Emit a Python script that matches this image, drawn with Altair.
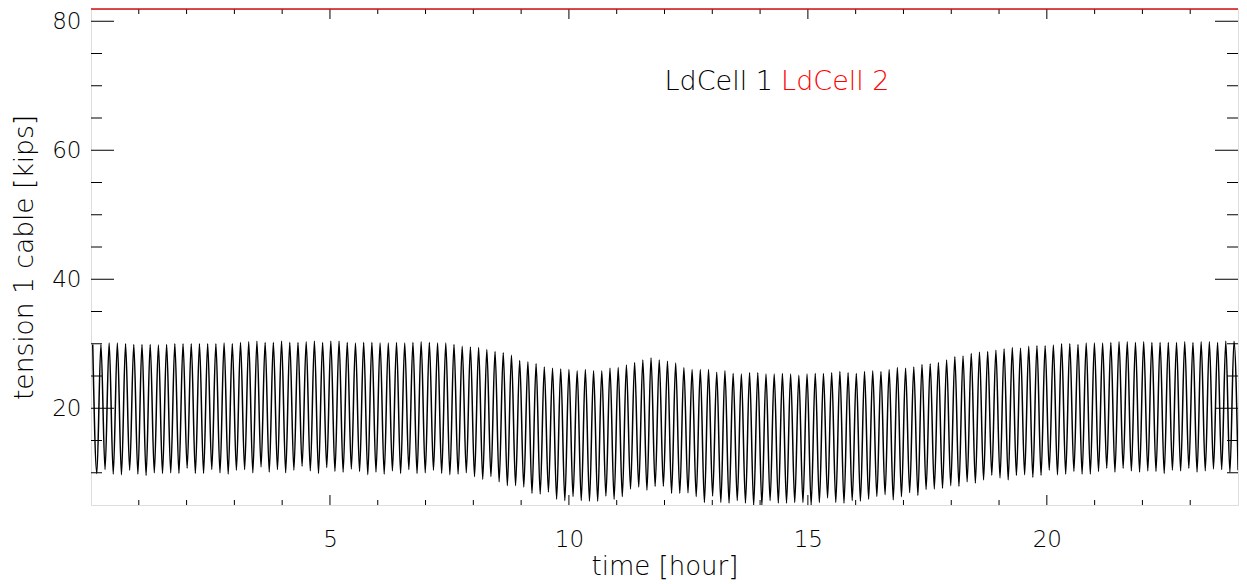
import altair as alt
import pandas as pd

# ---------------- data ----------------
# LdCell 1: successive peak (max) and trough (min) tension of each load cycle [kips]
PEAKS = [
    29.9, 29.9, 30.1, 30.1, 30.0, 29.9, 29.9, 29.9, 29.8, 29.9,
    30.0, 30.0, 30.0, 30.0, 30.0, 30.0, 30.1, 30.0, 30.2, 30.3,
    30.4, 30.2, 30.2, 30.4, 30.2, 30.2,
    30.3, 30.4, 30.2, 30.4, 30.4, 30.2, 30.1, 30.2, 30.2, 30.1,
    30.1, 30.2, 30.1, 30.2, 30.3, 30.2, 30.1, 30.1, 29.9, 29.6,
    29.5, 29.4, 29.1, 28.8, 28.6, 28.2,
    27.4, 27.2, 26.9, 26.4, 26.2, 26.1, 26.0, 25.8, 26.0, 25.8,
    25.8, 26.2, 26.3, 26.7, 27.1, 27.5, 27.8, 27.5, 27.3, 27.0,
    26.3, 26.0, 26.0, 26.0, 25.6, 25.8, 25.4, 25.3, 25.5, 25.5,
    25.3, 25.3, 25.4, 25.3, 25.1, 25.3, 25.4, 25.4, 25.5, 25.7,
    25.5, 25.4, 25.7, 25.8, 25.7, 26.0, 26.3, 26.2, 26.4, 26.8,
    26.9, 27.1, 27.5, 28.0, 28.1, 28.5, 28.7, 28.8, 29.0,
    29.2, 29.4, 29.3, 29.6, 29.7, 29.7, 29.8, 30.0, 30.0, 29.9,
    30.1, 30.1, 30.1, 30.2, 30.3, 30.3, 30.2, 30.3, 30.2, 30.2,
    30.2, 30.2, 30.3, 30.2, 30.3, 30.3, 30.2, 30.4, 30.4,
]
TROUGHS = [
    9.9, 10.5, 9.8, 9.7, 10.4, 9.8, 9.6, 10.0, 9.9, 10.0,
    9.9, 10.7, 9.9, 9.9, 10.5, 10.0, 9.8, 10.4, 10.5, 10.0,
    10.9, 10.1, 10.5, 10.0, 10.4, 11.0,
    10.3, 9.9, 10.8, 10.2, 10.1, 10.6, 10.2, 9.7, 10.1, 9.8,
    10.3, 9.9, 10.5, 9.9, 10.0, 10.4, 9.9, 9.7, 9.8, 10.0,
    9.4, 9.0, 9.4, 8.6, 8.0, 8.0,
    7.8, 6.8, 6.7, 7.0, 5.9, 5.7, 6.3, 5.7, 5.6, 5.6,
    6.4, 5.9, 6.3, 7.5, 7.8, 7.3, 7.9, 7.9, 6.8, 6.8,
    6.9, 6.3, 5.4, 6.4, 5.4, 5.3, 5.7, 5.3, 5.0, 5.0,
    5.7, 5.3, 5.3, 5.4, 5.4, 5.0, 5.4, 6.1, 5.4, 5.3,
    5.7, 5.6, 5.9, 6.3, 6.6, 5.8, 6.3, 6.9, 6.5, 7.4,
    7.5, 7.6, 8.0, 7.9, 8.6, 8.4, 8.9, 9.6, 9.2,
    8.9, 9.6, 9.7, 9.3, 9.6, 10.4, 9.7, 9.8, 10.2, 9.8,
    9.8, 10.2, 10.7, 10.1, 10.7, 10.3, 10.1, 10.3, 10.2, 9.9,
    10.4, 10.3, 10.7, 10.1, 10.3, 10.6, 10.5, 10.1, 10.4,
]
FIRST_PEAK_H = 0.036      # time of the first peak [hour]
CYCLE_H = 0.1718          # load-cycle period [hour]

# LdCell 2: off scale, drawn on the top of the frame
LDCELL2_T = [0.0, 24.0]
LDCELL2_V = [81.9, 81.9]

LEGEND_TEXT = ["LdCell 1", "LdCell 2"]
LEGEND_T = [12.0, 14.44]
LEGEND_V = [69.4, 69.4]
LEGEND_COLOR = ["#000000", "#ff0000"]

X_DOMAIN = [0, 24]
Y_DOMAIN = [5, 81.9]
X_LABELS = [5, 10, 15, 20]
X_MINOR = [h for h in range(1, 24) if h % 5]
Y_LABELS = [20, 40, 60, 80]
Y_MINOR = [v for v in range(10, 80, 5) if v % 20]

# ---------------- build tables ----------------
rows = []
for k, (p, tr) in enumerate(zip(PEAKS, TROUGHS)):
    rows.append({"t": FIRST_PEAK_H + k * CYCLE_H, "v": p})
    rows.append({"t": FIRST_PEAK_H + (k + 0.5) * CYCLE_H, "v": tr})
cell1 = pd.DataFrame(rows)
cell2 = pd.DataFrame({"t": LDCELL2_T, "v": LDCELL2_V})
legend = pd.DataFrame({"label": LEGEND_TEXT, "t": LEGEND_T, "v": LEGEND_V, "c": LEGEND_COLOR})

W, H = 1147, 496
FONT = "DejaVu Sans"

xscale = alt.Scale(domain=X_DOMAIN, nice=False, zero=False)
yscale = alt.Scale(domain=Y_DOMAIN, nice=False, zero=False)
xaxis = alt.Axis(values=X_LABELS, format="d", ticks=False, tickSize=0, domain=False, grid=False,
                 labelFont=FONT, labelFontSize=23, labelFontWeight=200, labelColor="#000",
                 labelPadding=23, titleFont=FONT, titleFontSize=26, titleFontWeight=200,
                 titleColor="#000", titlePadding=2, labelFlush=False)
yaxis = alt.Axis(values=Y_LABELS, format="d", ticks=False, tickSize=0, domain=False, grid=False,
                 labelFont=FONT, labelFontSize=23, labelFontWeight=200, labelColor="#000",
                 labelPadding=10, titleFont=FONT, titleFontSize=26.5, titleFontWeight=200,
                 titleColor="#000", titlePadding=13, labelFlush=False)
XT = "time [hour]"
YT = "tension 1 cable [kips]"


def X(f="t"):
    return alt.X(f, type="quantitative", scale=xscale, axis=xaxis, title=XT)


def Y(f="v"):
    return alt.Y(f, type="quantitative", scale=yscale, axis=yaxis, title=YT)


line1 = alt.Chart(cell1).mark_line(color="#000", strokeWidth=1.5, interpolate="monotone",
                                   clip=True).encode(x=X(), y=Y())
line2 = alt.Chart(cell2).mark_line(color="#d01010", strokeWidth=1.5, clip=False).encode(x=X(), y=Y())

xt_major = pd.DataFrame({"t": X_LABELS})
xt_minor = pd.DataFrame({"t": X_MINOR})
yt_major = pd.DataFrame({"v": Y_LABELS})
yt_minor = pd.DataFrame({"v": Y_MINOR})


def xticks(df, length):
    bot = alt.Chart(df).mark_rule(color="#000", strokeWidth=1).encode(
        x=X(), y=alt.value(H), y2=alt.value(H - length))
    top = alt.Chart(df).mark_rule(color="#000", strokeWidth=1).encode(
        x=X(), y=alt.value(0), y2=alt.value(length))
    return [bot, top]


def yticks(df, length):
    left = alt.Chart(df).mark_rule(color="#000", strokeWidth=1).encode(
        y=Y(), x=alt.value(0), x2=alt.value(length))
    right = alt.Chart(df).mark_rule(color="#000", strokeWidth=1).encode(
        y=Y(), x=alt.value(W), x2=alt.value(W - length))
    return [left, right]


texts = alt.Chart(legend).mark_text(font=FONT, fontSize=27, fontWeight=200, align="left",
                                    baseline="alphabetic").encode(
    x=X(), y=Y(), text="label:N", color=alt.Color("c:N", scale=None, legend=None))

layers = [line1] + xticks(xt_major, 10) + xticks(xt_minor, 5) + yticks(yt_major, 23) + \
    yticks(yt_minor, 11) + [texts, line2]

chart = alt.layer(*layers).properties(
    width=W, height=H,
    autosize=alt.AutoSizeParams(type="none"),
    padding={"left": 83, "top": 1, "right": 1, "bottom": 75},
).configure_view(stroke="#000", strokeWidth=1.2).configure(background="white")

chart.save("out.html", embed_options={"renderer": "svg", "actions": False})
